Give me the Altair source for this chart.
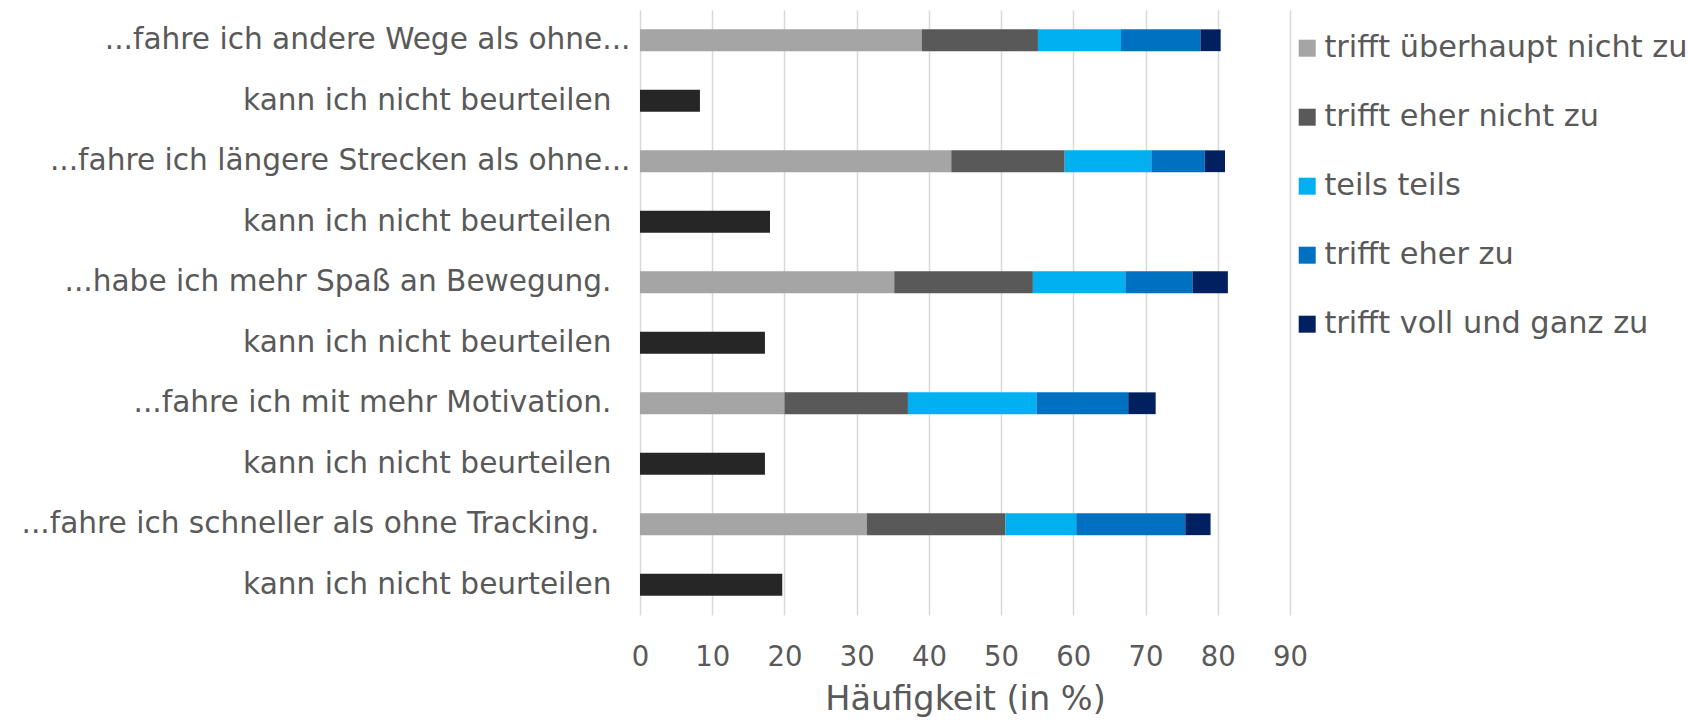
import json
import altair as alt
import pandas as pd

# ---- data ----
row_labels = [
    "...fahre ich andere Wege als ohne...",
    "kann ich nicht beurteilen",
    "...fahre ich längere Strecken als ohne...",
    "kann ich nicht beurteilen",
    "...habe ich mehr Spaß an Bewegung.",
    "kann ich nicht beurteilen",
    "...fahre ich mit mehr Motivation.",
    "kann ich nicht beurteilen",
    "...fahre ich schneller als ohne Tracking.",
    "kann ich nicht beurteilen",
]
categories = [
    "trifft überhaupt nicht zu",
    "trifft eher nicht zu",
    "teils teils",
    "trifft eher zu",
    "trifft voll und ganz zu",
]
cat_colors = ["#A5A5A5", "#595959", "#00B0F0", "#0070C0", "#002060"]
kann_label = "kann ich nicht beurteilen"
kann_color = "#262626"

# rows with the five-point scale
scale_rows = [0, 2, 4, 6, 8]
trifft_ueberhaupt_nicht = [39.0, 43.1, 35.2, 20.0, 31.4]
trifft_eher_nicht = [16.1, 15.7, 19.2, 17.1, 19.2]
teils_teils = [11.5, 12.0, 12.8, 17.8, 9.8]
trifft_eher = [11.0, 7.4, 9.3, 12.7, 15.1]
trifft_voll = [2.8, 2.8, 4.9, 3.8, 3.5]

# rows "kann ich nicht beurteilen"
kann_rows = [1, 3, 5, 7, 9]
kann_values = [8.3, 18.0, 17.3, 17.3, 19.7]

series = [trifft_ueberhaupt_nicht, trifft_eher_nicht, teils_teils, trifft_eher, trifft_voll]

records = []
for ci, (cat, vals) in enumerate(zip(categories, series)):
    for r, v in zip(scale_rows, vals):
        records.append({"row": r, "cat": cat, "value": v, "ord": ci})
for r, v in zip(kann_rows, kann_values):
    records.append({"row": r, "cat": kann_label, "value": v, "ord": 0})
df = pd.DataFrame(records)

label_expr = json.dumps(row_labels, ensure_ascii=False) + "[datum.value]"
# the original labels carry trailing blanks of different length
pad_expr = "datum.value == 8 ? 41 : ((datum.value == 0 || datum.value == 2) ? 10 : 29)"

FONT = "DejaVu Sans"
TXT = "#595959"

chart = (
    alt.Chart(df)
    .mark_bar()
    .encode(
        x=alt.X(
            "value:Q",
            stack="zero",
            scale=alt.Scale(domain=[0, 90], nice=False, zero=True),
            axis=alt.Axis(
                values=list(range(0, 100, 10)),
                title="Häufigkeit (in %)",
                grid=True,
                gridColor="#D9D9D9",
                gridWidth=1.5,
                domain=False,
                ticks=False,
                labelFlush=False,
                labelPadding=28,
                labelFont=FONT,
                labelFontSize=27.5,
                labelColor=TXT,
                titleFont=FONT,
                titleFontSize=33.5,
                titleFontWeight="normal",
                titleColor=TXT,
                titlePadding=13,
            ),
        ),
        y=alt.Y(
            "row:O",
            scale=alt.Scale(domain=list(range(10)), paddingInner=0.64, paddingOuter=0.32),
            axis=alt.Axis(
                title=None,
                labelExpr=label_expr,
                domain=False,
                ticks=False,
                grid=False,
                labelPadding={"expr": pad_expr},
                labelFont=FONT,
                labelFontSize=29.6,
                labelColor=TXT,
                labelLimit=700,
            ),
        ),
        color=alt.Color(
            "cat:N",
            scale=alt.Scale(domain=categories + [kann_label], range=cat_colors + [kann_color]),
            legend=alt.Legend(
                values=categories,
                title=None,
                orient="none",
                legendX=652,
                legendY=23,
                symbolType="square",
                symbolSize=289,
                symbolStrokeWidth=0,
                labelFont=FONT,
                labelFontSize=30.4,
                labelColor=TXT,
                labelOffset=2,
                rowPadding=38,
                labelLimit=500,
            ),
        ),
        order=alt.Order("ord:Q", sort="ascending"),
    )
    .properties(
        width=650,
        height=605,
        autosize=alt.AutoSizeParams(type="none"),
        padding={"left": 640, "top": 10, "right": 398, "bottom": 105},
        background="white",
    )
    .configure_view(stroke=None)
)

chart.save("out.html", embed_options={"renderer": "svg", "actions": False})
